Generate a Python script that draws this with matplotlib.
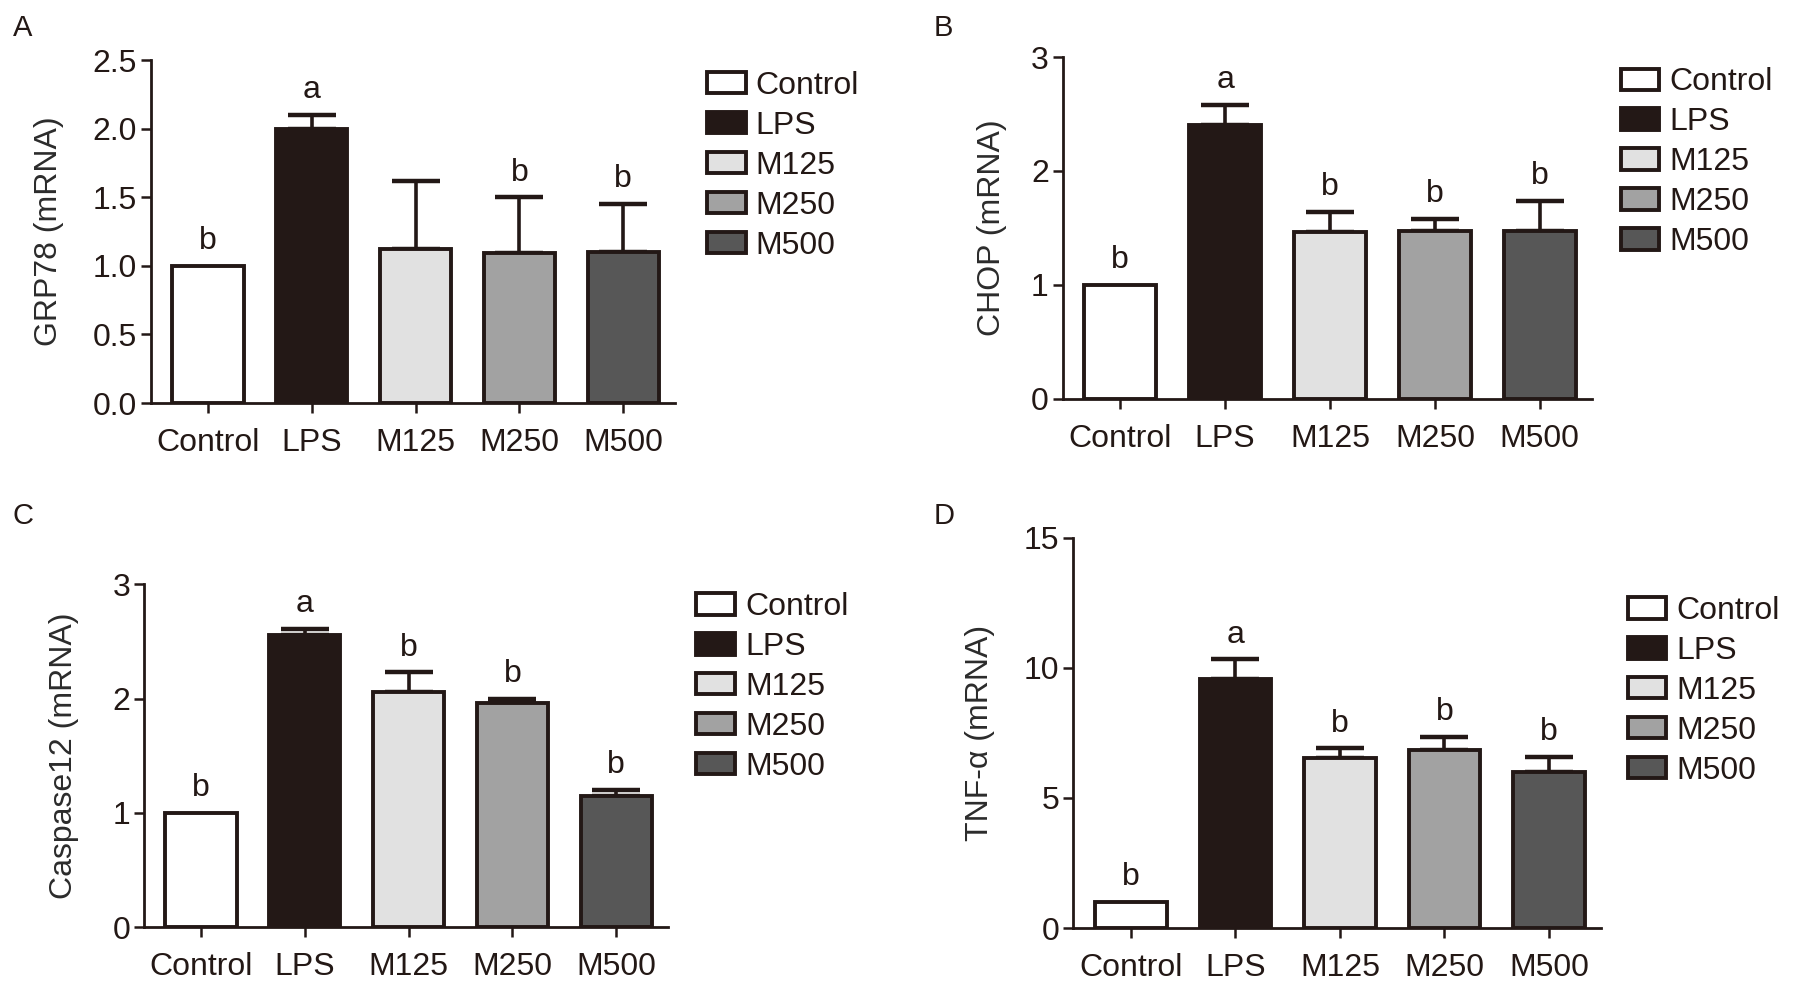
import numpy as np
import matplotlib
matplotlib.use('Agg')
import matplotlib.pyplot as plt

plt.rcParams['font.family'] = ['Liberation Sans', 'DejaVu Sans']

# --- data ---
groups = ['Control', 'LPS', 'M125', 'M250', 'M500']
bar_colors = ['#ffffff', '#231816', '#e1e1e1', '#a2a2a2', '#575757']
edge_color = '#231816'
text_color = '#231815'

grp78_mean = [1.0, 2.0, 1.12, 1.09, 1.10]
grp78_err = [0.0, 0.10, 0.50, 0.41, 0.35]
grp78_sig = ['b', 'a', '', 'b', 'b']

chop_mean = [1.0, 2.40, 1.46, 1.47, 1.47]
chop_err = [0.0, 0.18, 0.18, 0.11, 0.27]
chop_sig = ['b', 'a', 'b', 'b', 'b']

casp12_mean = [1.0, 2.56, 2.06, 1.96, 1.15]
casp12_err = [0.0, 0.05, 0.17, 0.04, 0.05]
casp12_sig = ['b', 'a', 'b', 'b', 'b']

tnf_mean = [1.0, 9.57, 6.53, 6.85, 5.99]
tnf_err = [0.0, 0.76, 0.38, 0.51, 0.60]
tnf_sig = ['b', 'a', 'b', 'b', 'b']

fig = plt.figure(figsize=(17.95, 9.92), dpi=100)

FS = 23


def draw_panel(rect, letter, letter_xy, means, errs, sigs, ylabel, yticks, yfmt,
               leg_xy, lpad=21):
    ax = fig.add_axes(rect)
    x = np.arange(len(groups))
    bars = ax.bar(x, means, width=0.685, color=bar_colors, edgecolor=edge_color,
                  linewidth=2.8, zorder=3)
    for xi, m, e in zip(x, means, errs):
        if e > 0:
            ax.errorbar(xi, m, yerr=[[0], [e]], fmt='none', ecolor=edge_color,
                        elinewidth=2.6, capsize=17, capthick=3.2, zorder=2)
    for xi, m, e, s in zip(x, means, errs, sigs):
        if s:
            ax.annotate(s, (xi, m + e), xytext=(0, 7), textcoords='offset points',
                        ha='center', va='bottom', fontsize=FS, color=text_color)
    ax.set_xlim(-0.55, 4.5)
    ax.set_ylim(yticks[0], yticks[-1])
    ax.set_yticks(yticks)
    ax.set_yticklabels([yfmt.format(v) for v in yticks])
    ax.set_xticks(x)
    ax.set_xticklabels(groups)
    for sp in ['top', 'right']:
        ax.spines[sp].set_visible(False)
    for sp in ['left', 'bottom']:
        ax.spines[sp].set_linewidth(2.0)
        ax.spines[sp].set_color(edge_color)
    ax.spines['bottom'].set_zorder(4)
    ax.tick_params(axis='both', direction='out', length=7, width=1.8,
                   color=edge_color, labelsize=FS, labelcolor=text_color)
    ax.tick_params(axis='x', pad=11)
    ax.tick_params(axis='y', pad=3)
    ax.set_ylabel(ylabel, fontsize=FS, color='#2b2b2b', labelpad=lpad)
    ax.legend(bars, groups, loc='upper left', bbox_to_anchor=leg_xy,
              bbox_transform=fig.transFigure, frameon=False, fontsize=FS,
              handlelength=1.2, handleheight=0.65, handletextpad=0.32,
              labelspacing=0.31, borderpad=0, borderaxespad=0,
              labelcolor=text_color)
    fig.text(letter_xy[0], letter_xy[1], letter, fontsize=21, color=text_color,
             ha='left', va='top')
    return ax


draw_panel([0.0841, 0.5937, 0.292, 0.3458], 'A', (0.007, 0.986),
           grp78_mean, grp78_err, grp78_sig, 'GRP78 (mRNA)',
           [0.0, 0.5, 1.0, 1.5, 2.0, 2.5], '{:.1f}', (0.394, 0.9285))
draw_panel([0.592, 0.598, 0.295, 0.3445], 'B', (0.520, 0.986),
           chop_mean, chop_err, chop_sig, 'CHOP (mRNA)',
           [0, 1, 2, 3], '{:d}', (0.903, 0.932), lpad=17)
draw_panel([0.0802, 0.0655, 0.292, 0.3455], 'C', (0.007, 0.494),
           casp12_mean, casp12_err, casp12_sig, 'Caspase12 (mRNA)',
           [0, 1, 2, 3], '{:d}', (0.388, 0.403), lpad=24)
draw_panel([0.598, 0.0645, 0.294, 0.3932], 'D', (0.520, 0.494),
           tnf_mean, tnf_err, tnf_sig, 'TNF-\u03b1 (mRNA)',
           [0, 5, 10, 15], '{:d}', (0.907, 0.399))

fig.savefig('out.png', dpi=100)
